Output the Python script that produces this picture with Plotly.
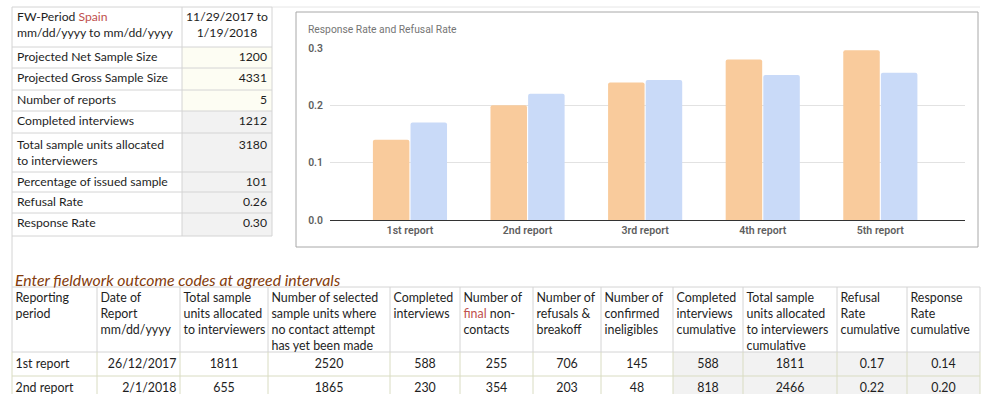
import plotly.graph_objects as go

# ---------------- data ----------------
reports = ["1st report", "2nd report", "3rd report", "4th report", "5th report"]
response_rate = [0.14, 0.20, 0.24, 0.28, 0.296]
refusal_rate = [0.17, 0.22, 0.244, 0.253, 0.257]

summary_head = ["FW-Period <span style='color:#c0504d'>Spain</span><br>mm/dd/yyyy to mm/dd/yyyy",
                "11/29/2017 to<br>1/19/2018"]
summary_labels = [
    "Projected Net Sample Size",
    "Projected Gross Sample Size",
    "Number of reports",
    "Completed interviews",
    "Total sample units allocated<br>to interviewers",
    "Percentage of issued sample",
    "Refusal Rate",
    "Response Rate",
]
summary_values = ["1200", "4331", "5", "1212", "3180", "101", "0.26", "0.30"]

detail_title = "Enter fieldwork outcome codes at agreed intervals"
detail_headers = [
    "Reporting<br>period",
    "Date of<br>Report<br>mm/dd/yyyy",
    "Total sample<br>units allocated<br>to interviewers",
    "Number of selected<br>sample units where<br>no contact attempt<br>has yet been made",
    "Completed<br>interviews",
    "Number of<br><span style='color:#c0504d'>final</span> non-<br>contacts",
    "Number of<br>refusals &<br>breakoff",
    "Number of<br>confirmed<br>ineligibles",
    "Completed<br>interviews<br>cumulative",
    "Total sample<br>units allocated<br>to interviewers<br>cumulative",
    "Refusal<br>Rate<br>cumulative",
    "Response<br>Rate<br>cumulative",
]
period = ["1st report", "2nd report"]
report_date = ["26/12/2017", "2/1/2018"]
allocated = ["1811", "655"]
no_contact = ["2520", "1865"]
completed = ["588", "230"]
non_contacts = ["255", "354"]
refusals = ["706", "203"]
ineligibles = ["145", "48"]
completed_cum = ["588", "818"]
allocated_cum = ["1811", "2466"]
refusal_cum = ["0.17", "0.22"]
response_cum = ["0.14", "0.20"]

# ---------------- layout / style constants ----------------
W, H = 986, 394
FONT = "Lato"
TXT = "#1e1e1e"
ORANGE = "#f9cb9c"
BLUE = "#c9daf8"
GRAY_FILL = "#f2f2f2"
CREAM = "#fdfdf3"
GRID = "#d4d4d4"
GRID_Y = "#d9dcc2"

# sheet geometry (pixels) of the two tables
TOP_COLS = [12, 182, 272]
TOP_ROWS = [7, 47, 68, 90, 111, 133, 172, 192, 213, 236]
TOP_PADS = [(5, 5.0), (5, 4.6), (5, 4.6), (5, 4.6), (5, 4.6), (5, 7.0), (5, 4.6), (5, 4.6), (5, 4.6)]
BOT_COLS = [12, 97, 180, 268, 390, 460, 533, 601, 673, 743, 837, 907, 980]
BOT_ROWS = [287, 352, 376, 400]
BOT_PADS = [(3.5, 5.8), (3.5, 6.8), (3.5, 6.8)]


def px_x(v):
    return v / W


def px_y(v):
    return 1 - v / H


fig = go.Figure()
shapes = []


def add_table(cols, rows, columns, aligns, fills, line_colors, font_size, pads):
    """Draw a sheet-like table on the pixel axes x2/y2; row 0 of each column is its header."""
    xs, ys, texts, poss = [], [], [], []
    ncol, nrow = len(cols) - 1, len(rows) - 1
    for c in range(ncol):
        for r in range(nrow):
            col = fills[c][r]
            if col != "white":
                shapes.append(dict(type="rect", xref="x2", yref="y2", layer="below",
                                   x0=cols[c], x1=cols[c + 1], y0=rows[r], y1=rows[r + 1],
                                   fillcolor=col, line=dict(width=0)))
    for r in range(nrow + 1):
        lc = line_colors[min(max(r - 1, 0), nrow - 1)] if r > 1 else line_colors[0]
        for c in range(ncol):
            shapes.append(dict(type="line", xref="x2", yref="y2", layer="below",
                               x0=cols[c], x1=cols[c + 1], y0=rows[r], y1=rows[r],
                               line=dict(color=lc, width=1)))
    for c in range(ncol + 1):
        for r in range(nrow):
            shapes.append(dict(type="line", xref="x2", yref="y2", layer="below",
                               x0=cols[c], x1=cols[c], y0=rows[r], y1=rows[r + 1],
                               line=dict(color=line_colors[r], width=1)))
    for c in range(ncol):
        for r in range(nrow):
            a = aligns[c][r]
            pad_x, pad_y = pads[r]
            if a == "left":
                x, p = cols[c] + pad_x, "bottom right"
            elif a == "right":
                x, p = cols[c + 1] - pad_x, "bottom left"
            else:
                x, p = (cols[c] + cols[c + 1]) / 2, "bottom center"
            xs.append(x)
            ys.append(rows[r] + pad_y)
            texts.append(columns[c][r])
            poss.append(p)
    fig.add_trace(go.Scatter(
        x=xs, y=ys, text=texts, mode="text", textposition=poss,
        textfont=dict(family=FONT, size=font_size, color=TXT),
        xaxis="x2", yaxis="y2", hoverinfo="skip", showlegend=False, cliponaxis=False,
    ))


# ---------------- top-left summary table ----------------
nt = len(summary_labels)
add_table(
    TOP_COLS, TOP_ROWS,
    columns=[[summary_head[0]] + summary_labels, [summary_head[1]] + summary_values],
    aligns=[["left"] * (nt + 1), ["center"] + ["right"] * nt],
    fills=[["white"] * (nt + 1), ["white"] + [CREAM] * 3 + [GRAY_FILL] * 5],
    line_colors=[GRID] * (nt + 1),
    font_size=12.2,
    pads=TOP_PADS,
)

# ---------------- bottom detail table ----------------
data_cols = [period, report_date, allocated, no_contact, completed, non_contacts,
             refusals, ineligibles, completed_cum, allocated_cum, refusal_cum, response_cum]
nb = len(period)
add_table(
    BOT_COLS, BOT_ROWS,
    columns=[[h] + d for h, d in zip(detail_headers, data_cols)],
    aligns=[["left"] * (nb + 1), ["left"] + ["right"] * nb]
    + [["left"] + ["center"] * nb for _ in range(10)],
    fills=[["white"] * (nb + 1)] * 8 + [["white"] + [GRAY_FILL] * nb] * 4,
    line_colors=[GRID] + [GRID_Y] * nb,
    font_size=12.4,
    pads=BOT_PADS,
)

# ---------------- chart ----------------
fig.add_trace(go.Bar(
    x=reports, y=response_rate, name="Response Rate",
    marker=dict(color=ORANGE, line=dict(width=0), cornerradius=2),
    xaxis="x", yaxis="y",
))
fig.add_trace(go.Bar(
    x=reports, y=refusal_rate, name="Refusal Rate",
    marker=dict(color=BLUE, line=dict(width=0), cornerradius=2),
    xaxis="x", yaxis="y",
))

shapes += [
    # chart container border
    dict(type="rect", xref="paper", yref="paper",
         x0=px_x(296), x1=px_x(978), y0=px_y(247), y1=px_y(12),
         line=dict(color="#a8a8a8", width=1), fillcolor="rgba(0,0,0,0)", layer="below"),
    # faint sheet gridline along the top
    dict(type="line", xref="paper", yref="paper",
         x0=px_x(272), x1=px_x(980), y0=px_y(7), y1=px_y(7),
         line=dict(color="#e6e6e6", width=1), layer="below"),
    # left sheet border between the tables
    dict(type="line", xref="paper", yref="paper",
         x0=px_x(12), x1=px_x(12), y0=px_y(236), y1=px_y(287),
         line=dict(color=GRID, width=1), layer="below"),
]

fig.update_layout(
    width=W, height=H,
    margin=dict(l=0, r=0, t=0, b=0),
    paper_bgcolor="white",
    plot_bgcolor="rgba(0,0,0,0)",
    showlegend=False,
    barmode="group",
    bargap=0.36,
    bargroupgap=0.03,
    font=dict(family=FONT, color=TXT),
    xaxis=dict(
        domain=[px_x(330), px_x(965)], anchor="y", type="category", range=[-0.68, 4.72],
        showgrid=False, showline=True, linecolor="#333333", linewidth=1, ticks="",
        tickfont=dict(family="Roboto", size=10.6, color="#5f5f5f", weight=600),
        fixedrange=True, automargin=False,
    ),
    yaxis=dict(
        domain=[px_y(220), px_y(48)], anchor="x", range=[0, 0.3], dtick=0.1, tickformat=".1f",
        showgrid=True, gridcolor="#e2e2e2", gridwidth=1, zeroline=False, ticks="",
        ticklabelstandoff=6,
        tickfont=dict(family="Roboto", size=10.4, color="#5f5f5f", weight=600),
        fixedrange=True, automargin=False,
    ),
    xaxis2=dict(domain=[0, 1], range=[0, W], visible=False, anchor="y2",
                fixedrange=True, automargin=False),
    yaxis2=dict(domain=[0, 1], range=[H, 0], visible=False, anchor="x2",
                fixedrange=True, automargin=False),
    shapes=shapes,
    annotations=[
        dict(text="Response Rate and Refusal Rate", xref="paper", yref="paper",
             x=px_x(306), y=px_y(29), xanchor="left", yanchor="middle", showarrow=False,
             font=dict(family="Roboto", size=10.3, color="#757575")),
        dict(text=detail_title, xref="paper", yref="paper",
             x=px_x(13), y=px_y(279), xanchor="left", yanchor="middle", showarrow=False,
             font=dict(family=FONT, size=15.8, color="#843c0c", style="italic")),
    ],
)

fig.write_html("out.html")
